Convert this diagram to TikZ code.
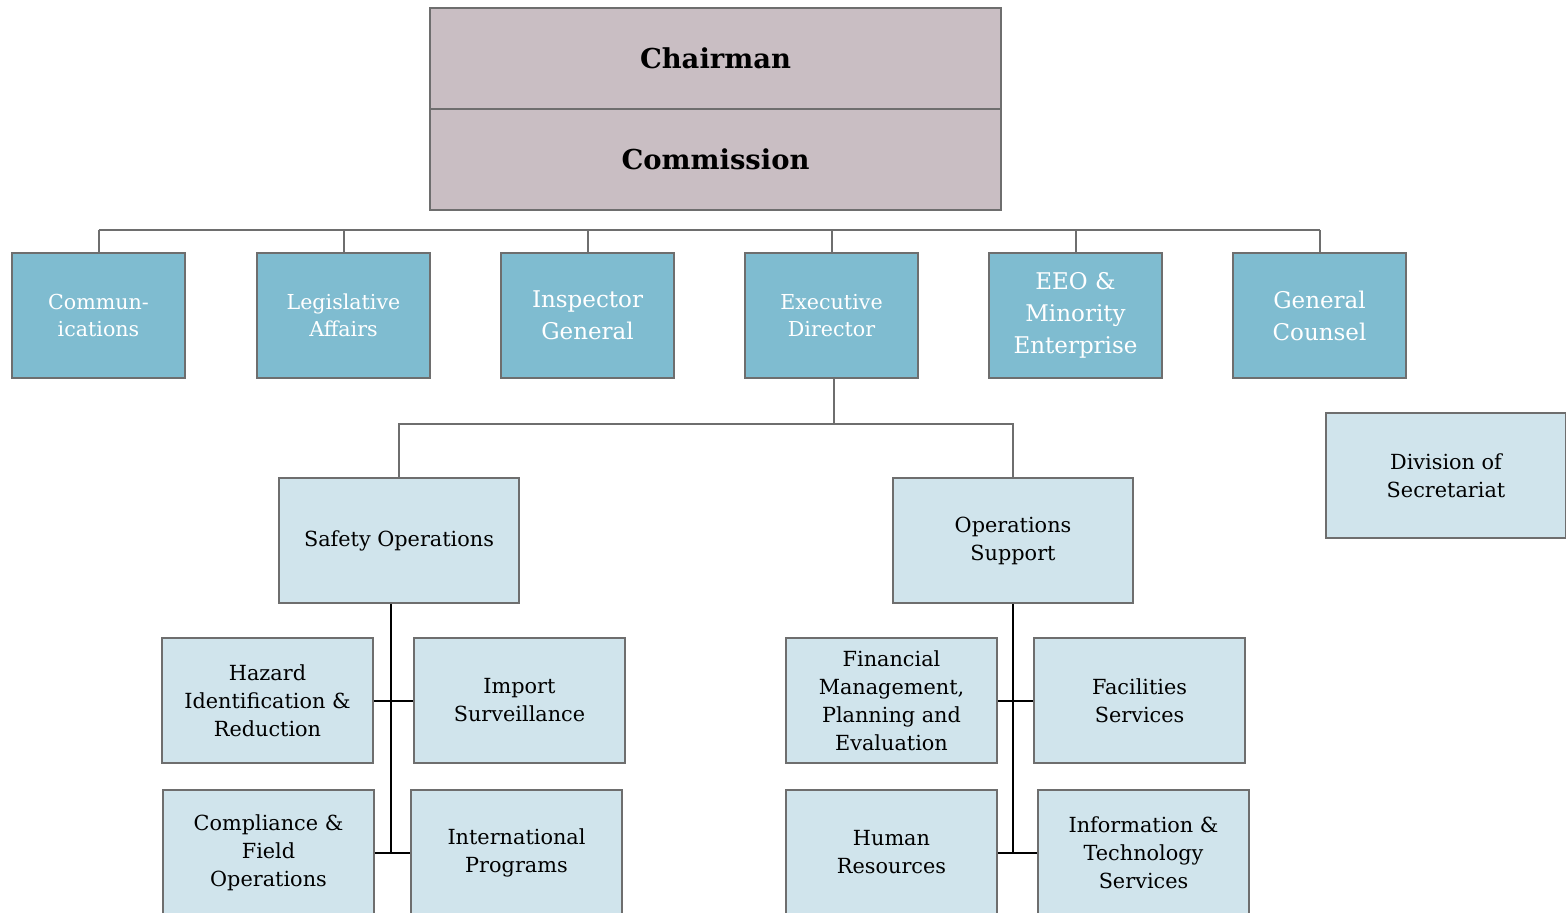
\documentclass[tikz,border=0pt]{standalone}
\usepackage{fontspec}
\setmainfont{DejaVu Serif}
\definecolor{chairfill}{HTML}{C9BEC3}
\definecolor{topfill}{HTML}{7FBCD0}
\definecolor{subfill}{HTML}{D0E4EC}
\definecolor{edgegray}{HTML}{6E6E6E}
\tikzset{
  box/.style={draw=edgegray, line width=0.8pt, align=center, inner sep=0pt},
  chairbox/.style={box, fill=chairfill, minimum width=285.5pt, minimum height=50.5pt, font=\fontsize{13.7}{16}\selectfont\bfseries},
  officebox/.style={box, fill=topfill, text=white, minimum width=86.5pt, minimum height=62.5pt, font=\fontsize{10.3}{13.5}\selectfont},
  bigoffice/.style={officebox, font=\fontsize{11.5}{16}\selectfont},
  opsbox/.style={box, fill=subfill, minimum width=120pt, minimum height=62.5pt, font=\fontsize{10.4}{14}\selectfont},
  unitbox/.style={opsbox, minimum width=105.5pt},
  bus/.style={edgegray, line width=1pt},
  stem/.style={black, line width=1pt}
}
\begin{document}
\begin{tikzpicture}[x=0.5pt, y=-0.5pt]
\useasboundingbox (0,0) rectangle (1566,913);
\node[chairbox] (chair) at (715.5,58.5) {Chairman};
\node[chairbox] (comsn) at (715.5,159.5) {Commission};

\node[officebox] (comm) at (98.5,315.5) {Commun-\\ications};
\node[officebox] (leg) at (343.5,315.5) {Legislative\\Affairs};
\node[bigoffice] (ig) at (587.5,315.5) {Inspector\\General};
\node[officebox] (exec) at (831.5,315.5) {Executive\\Director};
\node[bigoffice] (eeo) at (1075.5,315.5) {EEO \&\\Minority\\Enterprise};
\node[bigoffice] (gc) at (1319.5,315.5) {General\\Counsel};

\node[opsbox] (sec) at (1446,475.5) {Division of\\Secretariat};
\node[opsbox] (safety) at (399,540.5) {Safety Operations};
\node[opsbox] (ops) at (1013,540.5) {Operations\\Support};

\node[unitbox] (hazard) at (267.5,700.5) {Hazard\\Identification \&\\Reduction};
\node[unitbox] (import) at (519.5,700.5) {Import\\Surveillance};
\node[unitbox] (comp) at (268.5,852.5) {Compliance \&\\Field\\Operations};
\node[unitbox] (intl) at (516.5,852.5) {International\\Programs};

\node[unitbox] (fin) at (891.5,700.5) {Financial\\Management,\\Planning and\\Evaluation};
\node[unitbox] (fac) at (1139.5,700.5) {Facilities\\Services};
\node[unitbox] (hr) at (891.5,852.5) {Human\\Resources};
\node[unitbox] (info) at (1143.5,852.5) {Information \&\\Technology\\Services};

\coordinate (top) at (0,230);
\draw[bus] (comm.north |- top) -- (gc.north |- top);
\foreach \o in {comm,leg,ig,exec,eeo,gc}
{
    \draw[bus] (\o.north) -- (\o.north |- top);
}
\coordinate (split) at (834,424);
\draw[bus] (exec.south -| split) -- (split);
\draw[bus] (safety.north) |- (split) -| (ops.north);

\coordinate (sstem) at (391,0);
\draw[stem] (safety.south -| sstem) -- (sstem |- comp.east);
\draw[stem] (hazard.east) -- (import.west);
\draw[stem] (comp.east) -- (intl.west);
\draw[stem] (ops.south) -- (ops.south |- hr.east);
\draw[stem] (fin.east) -- (fac.west);
\draw[stem] (hr.east) -- (info.west);
\end{tikzpicture}
\end{document}
